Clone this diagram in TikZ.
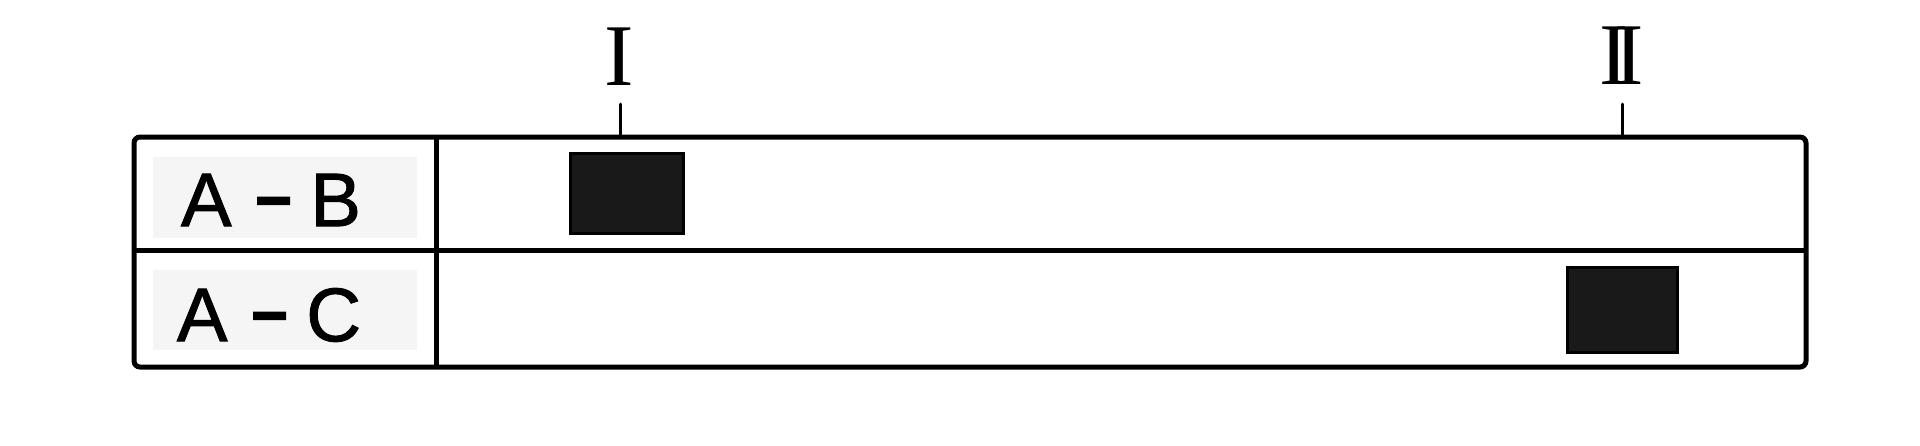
\documentclass[tikz,border=0pt]{standalone}
\usepackage{fontspec}
\usepackage{graphicx}
\setmainfont{Liberation Sans}
\newfontfamily\labfont[FakeBold=1.2]{Liberation Sans}
\newfontfamily\numfont{Liberation Serif}
\newcommand{\longdash}{\scalebox{1.7}[1.25]{-}}
\begin{document}
\begin{tikzpicture}[x=0.5pt,y=-0.5pt,line width=2.5pt,
  lab/.style={font=\labfont\fontsize{38}{40}\selectfont,inner sep=0pt},
  roman/.style={font=\numfont\fontsize{44}{46}\selectfont,inner sep=0pt},
  blk/.style={fill=black!90,draw=black,line width=1.5pt},
  cellbg/.style={fill=black!4,draw=none},
  tickline/.style={line width=1.5pt,line cap=round}]
\useasboundingbox (0,0) rectangle (1920,445);
% table frame
\node[draw,rounded corners=3pt,minimum width=836pt,minimum height=115pt,inner sep=0pt] (tbl) at (970,252) {};
\coordinate (midL) at (134,250);
\coordinate (midR) at (1806,250);
\coordinate (divT) at (436,137);
\coordinate (divB) at (436,367);
\fill[cellbg] (153,157) rectangle (417,238);
\fill[cellbg] (153,270) rectangle (417,350);
\draw (midL) -- (midR);
\draw (divT) -- (divB);
% row labels
\node[lab] (ab) at (271,200) {A\kern0.27em\longdash\kern0.2em B};
\node[lab] (ac) at (269,315) {A\kern0.27em\longdash\kern0.2em C};
% black blocks
\node[blk,minimum width=56.5pt,minimum height=40pt,inner sep=0pt] (b1) at (626.5,193) {};
\node[blk,minimum width=55pt,minimum height=42.5pt,inner sep=0pt] (b2) at (1622,309.5) {};
% roman numerals and ticks
\node[roman] (n1) at (619,57) {I};
\node[roman] (n2) at (1622,56) {I\kern-0.16em I};
\coordinate (t1) at (620,104);
\coordinate (t2) at (1622,104);
\draw[tickline] (t1) -- (t1 |- tbl.north);
\draw[tickline] (t2) -- (t2 |- tbl.north);
\end{tikzpicture}
\end{document}
